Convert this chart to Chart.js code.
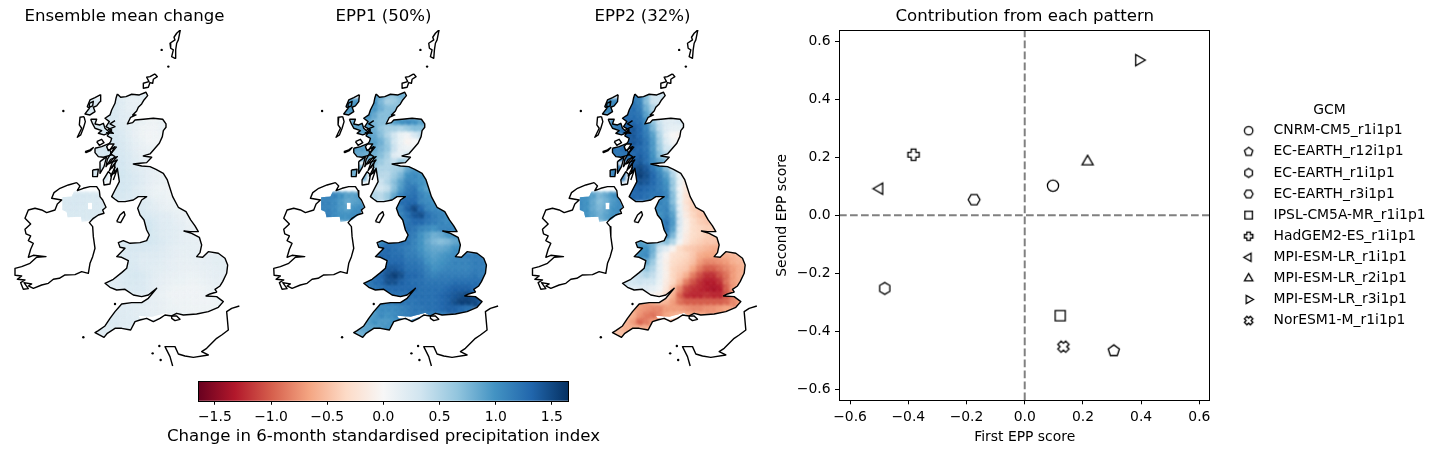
<!DOCTYPE html>
<html><head><meta charset="utf-8">
<style>html,body{margin:0;padding:0;background:#fff}canvas{position:absolute;display:block}</style>
<script src="https://cdn.jsdelivr.net/npm/chart.js@4"></script>
</head><body>
<canvas id="m0" width="249" height="380" style="left:0;top:0"></canvas>
<canvas id="m1" width="249" height="380" style="left:259px;top:0"></canvas>
<canvas id="m2" width="249" height="380" style="left:518px;top:0"></canvas>
<canvas id="cb" width="467" height="84" style="left:150px;top:370px"></canvas>
<canvas id="sc" width="670" height="454" style="left:770px;top:0"></canvas>
<script>
const mapTitles=['Ensemble mean change','EPP1 (50%)','EPP2 (32%)'];
const scatterTitle='Contribution from each pattern';
const colorbarLabel='Change in 6-month standardised precipitation index';
const xLabel='First EPP score', yLabel='Second EPP score', legendTitle='GCM';
const gcmNames=['CNRM-CM5_r1i1p1','EC-EARTH_r12i1p1','EC-EARTH_r1i1p1','EC-EARTH_r3i1p1','IPSL-CM5A-MR_r1i1p1','HadGEM2-ES_r1i1p1','MPI-ESM-LR_r1i1p1','MPI-ESM-LR_r2i1p1','MPI-ESM-LR_r3i1p1','NorESM1-M_r1i1p1'];
const gcmMarkers=['circle','pentagon','hexPointy','hexFlat','square','plus','left','up','right','xfill'];
const firstScore=[0.097,0.306,-0.481,-0.174,0.122,-0.382,-0.499,0.216,0.392,0.133];
const secondScore=[0.102,-0.467,-0.252,0.054,-0.346,0.209,0.092,0.185,0.535,-0.453];
const scoreTicks=[-0.6,-0.4,-0.2,0,0.2,0.4,0.6];
const scoreLim=0.638;
const cbTicks=[-1.5,-1,-0.5,0,0.5,1,1.5];
const cbLim=1.65;
const rdbu=['#67001f','#b2182b','#d6604d','#f4a582','#fddbc7','#f7f7f7','#d1e5f0','#92c5de','#4393c3','#2166ac','#053061'];

// grid rows: northing, first easting of the row (cells step 20 map units)
const rowY=[310,330,370,390,450,470,510,530,590,610,630,650,
290,310,330,350,370,390,410,430,450,470,490,510,530,550,570,590,610,630,650,670,690,710,730,750,770,790,810,830,850,870,890,910,930,950,970,990,1010];
const rowX=[270,250,290,290,290,290,290,290,190,190,190,190,
350,350,330,330,330,330,330,330,330,330,350,350,350,350,330,330,410,410,430,430,430,430,370,350,370,370,370,350,330,330,390,370,350,330,310,290,290];
const meanRows=[[.24,.24,.25],[.24,.24,.25],[.26,.26],[.26,.26],[.26,.28],[.28,.28],[.28,.3],[.28,.3],
[.25,.26,.27,.28,.27,.26,.25],[.26,.27,.28,.27,.26,.26,.25],[.26,.27,.27,.26,.26,.26,.26],[.26,.26,.26,.26,.26,.26,.26],
[.22,.2,.15,.15,.18],[.25,.2,.15,.12,.15],[.28,.25,.2,.15,.15],[.28,.25,.2,.18,.15],[.28,.25,.2,.15,.12,.1,.08,.08,.1],[.3,.27,.22,.17,.12,.08,.07,.07,.1],[.3,.28,.24,.18,.12,.08,.05,.06,.08],[.3,.3,.26,.2,.14,.1,.06,.06],[.3,.3,.27,.22,.16,.12,.1],[.3,.3,.28,.24,.18,.14,.12],[.3,.3,.25,.2,.16],[.32,.3,.26,.22,.18,.16,.14],[.32,.32,.28,.24,.2,.16,.12,.1],[.3,.3,.28,.25,.2,.16,.12,.1,.08],[.28,.28,.3,.28,.22,.18,.14,.1,.08,.08],[.28,.28,.28,.25,.22,.2,.14,.1,.1,.08,.08],[.25,.22,.2,.15,.12,.1,.1],[.25,.24,.2,.18,.14,.12,.1,.1],[.26,.24,.22,.2,.18,.14,.12,.1],[.28,.3,.25,.2,.2,.16,.14,.1,.1],[.3,.32,.26,.22,.2,.18,.16,.12,.12],[.28,.3,.26,.22,.2,.18,.15,.14,.12,.12],
[.25,.25,.25,.28,.3,.28,.24,.2,.18,.16,.15,.14,.14],[.22,.25,.28,.27,.27,.25,.24,.22,.18,.16,.15,.15,.14,.14],[.24,.25,.24,.22,.22,.22,.2,.18,.16,.14,.14,.16,.16,.16,.16,.16],[.24,.24,.24,.2,.2,.2,.18,.16,.14,.13,.13,.14,.15,.16,.17,.17,.16],[.24,.26,.25,.22,.2,.18,.17,.16,.14,.12,.12,.12,.14,.15,.16,.17,.16],[.2,.22,.26,.28,.26,.22,.18,.16,.14,.12,.11,.1,.1,.12,.14,.16,.16,.16],[.2,.2,.24,.26,.26,.24,.2,.16,.14,.12,.1,.1,.09,.09,.1,.12,.14,.14],[.2,.2,.22,.24,.24,.24,.2,.16,.12,.1,.08,.08,.07,.07,.08,.1,.12],[.2,.2,.2,.16,.12,.1,.08,.07,.07,.07,.07,.07,.08,.1,.1],[.16,.16,.18,.18,.16,.14,.12,.1,.08,.08,.08,.07,.07,.07,.08,.1],[.18,.2,.2,.18,.16,.14,.14,.12,.1,.1,.08,.08,.08,.08,.08],[.2,.22,.22,.2,.18,.18,.16,.14,.12,.12,.1,.1],[.2,.24,.24,.22,.22,.2,.18,.16],[.2,.22,.22,.22,.2,.2],[.2,.2,.2]];
const epp1Rows=[[.95,.95,1.0],[.95,.95,1.0],[.9,.9],[.9,.9],[.9,.9],[.85,.85],[.85,.8],[.8,.8],
[1.05,1.1,1.1,1.0,.9,.9,.95],[1.1,1.1,1.05,.95,.85,.9,.95],[1.1,1.1,1.05,.95,.9,1.0,1.05],[1.1,1.15,1.05,1.0,1.0,1.05,1.1],
[.9,.85,.65,.65,.8],[1.0,.75,.55,.6,.7],[1.0,.95,.8,.7,.7],[1.0,.85,.7,.7,.8],[.9,.75,.7,.7,.9,1.0,1.05,1.0,.9],[.9,.8,.65,.55,.55,.5,.6,.7,.7],[.9,.85,.7,.5,.3,.1,.05,.25,.4],[.9,.9,.8,.6,.3,.1,-.05,.0],[.9,.85,.75,.65,.35,.12,.08],[.8,.8,.7,.55,.2,.15,.3],[.7,.6,.5,.4,.6],[.6,.5,.5,.55,.6,.85,.95],[.55,.45,.45,.6,.75,1.0,1.05,1.0],[.4,.35,.5,.7,.9,1.1,1.05,1.0,.95],[.35,.35,.3,.4,.7,.95,1.15,1.2,1.0,.9],[.5,.5,.45,.6,.85,1.1,1.2,1.25,1.1,1.0,.95],[1.05,1.25,1.3,1.3,1.1,1.05,1.0],[1.05,1.15,1.35,1.5,1.3,1.1,1.05,1.05],[1.1,1.25,1.4,1.45,1.25,1.15,1.1,1.05],[1.1,1.2,1.3,1.3,1.2,1.15,1.1,1.05,1.05],[1.2,1.25,1.2,1.1,1.05,1.0,1.1,1.1,1.1],[1.2,1.2,1.15,1.0,.9,.8,.85,.95,1.0,1.0],
[1.05,1.2,1.2,1.25,1.2,1.1,1.0,.85,.75,.7,.75,.85,.9],[1.15,1.25,1.3,1.25,1.2,1.15,1.1,1.0,.9,.85,.85,.9,1.0,1.0],[1.3,1.3,1.25,1.25,1.15,1.15,1.05,.95,.9,.95,1.0,1.05,1.1,1.15,1.15,1.15],[1.3,1.3,1.3,1.3,1.2,1.2,1.15,1.0,.95,1.0,1.05,1.1,1.1,1.1,1.15,1.15,1.1],[1.35,1.4,1.4,1.35,1.25,1.25,1.2,1.1,1.0,1.05,1.1,1.1,1.1,1.1,1.15,1.15,1.1],[1.25,1.3,1.45,1.55,1.45,1.3,1.3,1.25,1.15,1.1,1.15,1.15,1.15,1.15,1.15,1.2,1.15,1.15],[1.15,1.25,1.3,1.45,1.45,1.35,1.3,1.25,1.25,1.2,1.2,1.2,1.2,1.25,1.25,1.25,1.25,1.25],[1.15,1.2,1.25,1.3,1.3,1.3,1.3,1.3,1.25,1.25,1.25,1.25,1.3,1.35,1.35,1.35,1.3],[1.25,1.25,1.25,1.25,1.25,1.25,1.25,1.25,1.3,1.35,1.4,1.45,1.5,1.45,1.4],[1.1,1.15,1.15,1.2,1.2,1.2,1.25,1.25,1.25,1.3,1.35,1.45,1.55,1.55,1.5,1.4],[1.0,1.05,1.05,1.05,1.1,1.15,1.2,1.2,1.25,1.25,1.3,1.35,1.35,1.3,1.25],[.9,.95,1.05,1.0,1.05,1.1,1.15,1.2,1.15,1.15,1.15,1.15],[.85,.9,1.0,.95,.95,1.0,1.05,1.05],[.75,.85,.9,.9,.95,1.0],[.75,.8,.85]];
const epp2Rows=[[1.0,1.05,1.1],[1.0,1.05,1.1],[1.1,1.15],[1.1,1.2],[1.2,1.2],[1.2,1.2],[1.1,1.15],[1.1,1.15],
[1.0,1.0,.9,.75,.85,1.0,1.05],[1.05,1.0,.85,.7,.8,.95,1.05],[1.05,1.0,.85,.75,.85,1.0,1.05],[1.05,1.0,.9,.8,.9,1.0,1.05],
[1.1,1.15,.7,.3,.35],[1.2,1.1,.7,.35,.3],[1.2,1.25,1.15,.8,.5],[1.25,1.25,1.2,.9,.6],[1.3,1.3,1.25,1.05,.65,.35,.2,.2,.25],[1.35,1.4,1.3,1.1,.75,.4,.2,.15,.15],[1.4,1.4,1.3,1.15,.9,.5,.15,0,-.05],[1.35,1.4,1.35,1.2,.95,.55,.2,.05],[1.3,1.35,1.3,1.2,.95,.6,.3],[1.2,1.3,1.35,1.25,1.0,.7,.45],[1.35,1.4,1.25,1.05,.85],[1.45,1.5,1.4,1.2,1.0,.7,.3],[1.5,1.55,1.45,1.3,1.1,.9,.5,.1],[1.35,1.45,1.4,1.3,1.15,1.0,.6,.1,-.15],[1.25,1.3,1.35,1.3,1.25,1.15,1.05,.6,.05,-.2],[1.25,1.3,1.3,1.25,1.2,1.2,1.1,.7,.1,-.25,-.35],[1.05,1.1,1.05,.7,.1,-.25,-.4],[1.1,1.05,1.1,.8,.15,-.2,-.4,-.45],[1.0,1.1,.9,.2,-.15,-.35,-.45,-.5],[1.05,1.2,.95,.25,-.1,-.3,-.4,-.45,-.45],[1.0,1.2,.9,.2,-.1,-.3,-.35,-.4,-.4],[.9,1.1,.75,.15,-.15,-.3,-.35,-.4,-.45,-.45],
[.9,.85,.75,.55,.7,.5,.05,-.2,-.35,-.4,-.45,-.45,-.5],[.9,1.0,1.0,.8,.35,.2,-.05,-.3,-.4,-.45,-.5,-.55,-.6,-.6],[1.0,1.05,.75,.2,-.05,-.25,-.3,-.35,-.45,-.6,-.65,-.65,-.6,-.6,-.55,-.5],[.8,.85,.6,.15,-.1,-.3,-.35,-.4,-.5,-.7,-.8,-.8,-.75,-.7,-.6,-.55,-.5],[.6,.65,.5,.15,-.1,-.35,-.4,-.45,-.65,-.85,-1.0,-1.0,-.9,-.8,-.7,-.6,-.55],[.35,.4,.5,.4,.15,-.1,-.35,-.45,-.6,-.85,-1.05,-1.2,-1.2,-1.05,-.9,-.7,-.6,-.55],[.3,.3,.35,.3,.3,.1,-.15,-.35,-.55,-.85,-1.05,-1.2,-1.3,-1.3,-1.2,-.9,-.7,-.6],[.25,.2,.2,.2,.15,.05,-.2,-.5,-.8,-1.1,-1.2,-1.25,-1.3,-1.35,-1.3,-1.0,-.7],[.05,-.05,-.1,-.3,-.6,-.95,-1.2,-1.25,-1.25,-1.2,-1.25,-1.25,-1.05,-.8,-.7],[-.7,-.7,-.6,-.5,-.55,-.7,-.9,-1.0,-1.0,-1.0,-1.0,-1.0,-1.0,-.95,-.8,-.7],[-.65,-.7,-.75,-.8,-.8,-.7,-.7,-.7,-.75,-.8,-.8,-.75,-.75,-.7,-.65],[-.55,-.6,-.75,-.85,-.9,-.8,-.65,-.6,-.55,-.6,-.65,-.65],[-.5,-.55,-.7,-.95,-.85,-.7,-.65,-.6],[-.45,-.5,-.6,-.6,-.6,-.6],[-.45,-.5,-.5]];

// coast outlines, map units
const gbCoast=[[352,282],[362,292],[378,290],[395,283],[418,285],[438,277],[443,287],[432,300],[425,312],[415,322],[410,333],[398,345],[408,345],[392,352],[382,372],[398,368],[405,360],[430,358],[460,355],[488,358],[498,372],[498,382],[490,392],[487,410],[478,430],[465,445],[450,462],[430,468],[455,472],[440,488],[420,490],[400,492],[425,498],[450,500],[468,508],[490,520],[502,540],[510,565],[518,590],[535,622],[558,635],[572,660],[585,678],[595,695],[570,695],[552,693],[575,700],[598,712],[605,735],[600,758],[590,770],[608,772],[625,755],[655,760],[675,775],[683,795],[680,820],[668,845],[660,858],[645,868],[650,876],[630,882],[618,888],[650,890],[670,905],[655,922],[625,935],[590,942],[550,945],[530,940],[515,948],[495,945],[480,955],[460,965],[440,955],[420,960],[405,965],[392,990],[365,985],[345,985],[322,1000],[312,1012],[298,1005],[285,998],[295,992],[315,978],[330,955],[345,935],[365,912],[395,908],[425,908],[445,895],[470,865],[445,885],[425,890],[400,885],[375,868],[350,870],[330,862],[315,850],[340,838],[365,818],[380,805],[385,782],[365,772],[350,770],[375,745],[360,742],[355,728],[370,722],[390,730],[420,728],[440,722],[448,705],[440,690],[432,660],[420,645],[413,625],[425,600],[440,590],[415,590],[400,600],[375,605],[355,605],[345,598],[335,590],[345,570],[358,545],[355,525],[352,505],[342,520],[345,490],[328,512],[338,485],[352,470],[332,478],[318,500],[322,478],[345,440],[325,452],[320,440],[332,425],[335,415],[322,408],[328,398],[335,390],[318,380],[328,365],[315,355],[330,345],[335,330],[345,310],[348,295],[352,282]];
const irelandCoast=[[230,548],[240,558],[232,572],[250,565],[270,560],[290,560],[298,572],[300,590],[308,600],[318,622],[308,630],[312,640],[295,645],[280,655],[268,668],[278,680],[280,710],[285,745],[278,770],[270,790],[265,820],[245,815],[225,824],[195,825],[178,835],[160,838],[145,850],[125,855],[100,865],[85,858],[95,852],[72,848],[85,866],[70,868],[62,848],[75,840],[52,838],[65,828],[46,826],[45,805],[65,800],[90,790],[110,772],[138,770],[100,766],[85,772],[92,748],[100,730],[85,722],[92,708],[78,702],[75,688],[92,672],[75,655],[85,630],[105,625],[125,630],[140,638],[165,630],[172,612],[185,600],[155,595],[162,578],[180,565],[205,555],[230,548]];
const lewisCoast=[[302,284],[285,293],[270,300],[262,320],[268,325],[255,342],[270,345],[285,335],[280,322],[290,318],[300,305],[302,284]];
const lewisInner=[[268,310],[280,304],[278,318],[268,322],[268,310]];
const uistCoast=[[252,350],[240,352],[238,375],[245,385],[232,412],[242,405],[250,385],[256,365],[252,350]];
const skyeCoast=[[272,358],[290,358],[285,372],[300,375],[310,370],[315,385],[330,398],[312,405],[295,400],[305,392],[285,385],[278,372],[272,358]];
const smallIsles=[[290,425],[305,418],[312,428],[298,436],[290,425]];
const tireeCoast=[[255,455],[270,450],[280,443],[272,452],[258,458],[255,455]];
const mullCoast=[[285,445],[305,440],[325,432],[342,432],[330,450],[335,465],[310,472],[295,470],[285,458],[285,445]];
const islayCoast=[[278,510],[295,508],[292,530],[278,530],[278,510]];
const juraCoast=[[300,485],[320,470],[312,500],[300,520],[300,485]];
const arranCoast=[[325,515],[335,525],[330,552],[312,555],[310,540],[325,515]];
const lochsNorth=[[345,362],[330,372],[345,380],[325,388],[340,400],[318,398]];
const lochsMid=[[350,440],[332,462],[345,470],[326,492],[352,480],[335,505]];
const lochsSouth=[[346,500],[332,528],[350,512],[340,540]];
const manCoast=[[350,665],[360,645],[372,635],[375,645],[362,668],[350,665]];
const wightCoast=[[515,948],[530,948],[540,958],[525,962],[515,955],[515,948]];
const orkneyCoast=[[465,222],[450,230],[440,232],[447,245],[430,250],[430,265],[445,262],[450,248],[458,250],[460,238],[472,230],[465,222]];
const shetlandCoast=[[541,90],[530,100],[522,112],[525,120],[510,130],[512,145],[520,150],[515,170],[525,175],[527,150],[530,130],[535,120],[541,90]];
const franceCoast=[[718,918],[695,925],[680,935],[685,990],[665,1005],[650,1015],[620,1045],[605,1055],[625,1065],[580,1072],[555,1068],[535,1062],[525,1040],[495,1040],[510,1070],[518,1098]];
const rockIslets=[[190,333],[485,150],[505,200],[250,1012],[345,912],[458,1060],[482,1080],[478,1038]];
const niMask=[[187,592],[215,590],[222,575],[250,565],[290,560],[300,590],[315,620],[305,640],[280,660],[245,667],[243,650],[203,652],[200,635],[187,630]];
const loughMask=[[264,608],[276,608],[276,628],[264,628]];
const southGap=[[415,947],[455,950],[500,938],[510,945],[480,952],[458,960],[420,955]];
const outlines=[gbCoast,irelandCoast,lewisCoast,lewisInner,uistCoast,skyeCoast,smallIsles,tireeCoast,mullCoast,islayCoast,juraCoast,arranCoast,lochsNorth,lochsMid,lochsSouth,manCoast,wightCoast,orkneyCoast,shetlandCoast,franceCoast];
const solidOutlines=[orkneyCoast,shetlandCoast,tireeCoast,uistCoast];
const fillMasks=[gbCoast,lewisCoast,skyeCoast,mullCoast,islayCoast,juraCoast,arranCoast,niMask,loughMask,southGap];

const FONT='"DejaVu Sans"';
Chart.defaults.font.family=FONT;
Chart.defaults.color='#000';
Chart.defaults.animation=false;
const hexRgb=h=>[1,3,5].map(i=>parseInt(h.substr(i,2),16));
function cmap(v){
  const t=Math.max(0,Math.min(1,(v+cbLim)/(2*cbLim)))*(rdbu.length-1);
  const i=Math.min(rdbu.length-2,Math.floor(t)),f=t-i,a=hexRgb(rdbu[i]),b=hexRgb(rdbu[i+1]);
  return `rgb(${a.map((c,k)=>Math.round(c+(b[k]-c)*f)).join(',')})`;
}
const landClip={id:'landClip',
  beforeDatasetDraw(c,a){
    if(!c.data.datasets[a.index].isCells)return;
    const x=c.scales.x,y=c.scales.y,ctx=c.ctx;
    ctx.save();ctx.beginPath();
    fillMasks.forEach(m=>{m.forEach((p,i)=>{const X=x.getPixelForValue(p[0]),Y=y.getPixelForValue(p[1]);i?ctx.lineTo(X,Y):ctx.moveTo(X,Y);});ctx.closePath();});
    ctx.clip('evenodd');ctx.filter='blur(1.6px)';
  },
  afterDatasetDraw(c,a){if(c.data.datasets[a.index].isCells)c.ctx.restore();}
};
const frame={id:'frame',afterDraw(c){const a=c.chartArea,ctx=c.ctx;ctx.save();ctx.strokeStyle='#000';ctx.lineWidth=1;
  ctx.strokeRect(Math.round(a.left)+.5,Math.round(a.top)+.5,Math.round(a.right-a.left)-1,Math.round(a.bottom-a.top));ctx.restore();}};

function makeMap(id,title,rows,shift){
  const cells=[],colors=[];
  rows.forEach((r,j)=>r.forEach((v,i)=>{cells.push({x:rowX[j]+20*i,y:rowY[j]});colors.push(cmap(v));}));
  const ds=outlines.map(o=>({data:o.map(p=>({x:p[0],y:p[1]})),showLine:true,pointRadius:0,borderColor:'#000',borderWidth:1.4,borderJoinStyle:'round',
    fill:solidOutlines.includes(o),backgroundColor:'#000'}));
  ds.push({data:rockIslets.map(p=>({x:p[0],y:p[1]})),showLine:false,pointRadius:1.2,backgroundColor:'#000',borderWidth:0});
  ds.push({isCells:true,data:cells,showLine:false,pointStyle:'rect',pointRadius:6.6,backgroundColor:colors,borderWidth:0,pointBorderWidth:0});
  new Chart(document.getElementById(id),{type:'scatter',data:{datasets:ds},plugins:[landClip],
    options:{responsive:false,devicePixelRatio:1,layout:{padding:0,autoPadding:false},
      scales:{x:{type:'linear',display:false,min:shift,max:747+shift},y:{type:'linear',display:false,reverse:true,min:90,max:1140}},
      plugins:{legend:{display:false},tooltip:{enabled:false},
        title:{display:true,text:title,color:'#000',font:{size:16.6,weight:'normal'},padding:{top:7,bottom:3}}}}});
}
makeMap('m0',mapTitles[0],meanRows,0);
makeMap('m1',mapTitles[1],epp1Rows,0.75);
makeMap('m2',mapTitles[2],epp2Rows,1.5);

// colour bar
new Chart(document.getElementById('cb'),{type:'bar',
  data:{labels:[''],datasets:[{data:[[-cbLim,cbLim]],barPercentage:1,categoryPercentage:1,borderWidth:0,
    backgroundColor(ctx){const a=ctx.chart.chartArea;if(!a)return '#fff';
      const g=ctx.chart.ctx.createLinearGradient(a.left,0,a.right,0);rdbu.forEach((c,i)=>g.addColorStop(i/(rdbu.length-1),c));return g;}}]},
  plugins:[frame],
  options:{indexAxis:'y',responsive:false,devicePixelRatio:1,layout:{padding:{left:0,right:0,top:11,bottom:0},autoPadding:false},
    scales:{y:{display:true,grid:{display:false},border:{display:false},ticks:{display:false},afterFit(s){s.width=48}},
      gap:{type:'linear',position:'right',min:0,max:1,grid:{display:false},border:{display:false},ticks:{display:false},afterFit(s){s.width=48.3}},
      x:{type:'linear',min:-cbLim,max:cbLim,afterFit(s){s.height=24.3},afterBuildTicks(s){s.ticks=cbTicks.map(v=>({value:v}))},
        grid:{drawOnChartArea:false,drawTicks:true,tickLength:4,tickColor:'#000'},border:{display:false},
        ticks:{autoSkip:false,maxRotation:0,padding:4.5,color:'#000',font:{size:13.9},callback:v=>v.toFixed(1).replace('-','\u2212')}}},
    plugins:{legend:{display:false},tooltip:{enabled:false},
      title:{display:true,position:'bottom',fullSize:true,text:colorbarLabel,color:'#000',font:{size:16.6,weight:'normal'},padding:{top:2,bottom:7}}}}});

// marker glyphs
function glyph(kind,r){
  const S=Math.ceil(2*r+4),c=document.createElement('canvas');c.width=S;c.height=S;
  const g=c.getContext('2d');g.translate(S/2,S/2);g.strokeStyle='#000';g.lineWidth=1.3;g.lineJoin='miter';g.beginPath();
  const poly=(n,a0,R)=>{for(let i=0;i<n;i++){const a=a0+i*2*Math.PI/n;i?g.lineTo(R*Math.cos(a),R*Math.sin(a)):g.moveTo(R*Math.cos(a),R*Math.sin(a));}g.closePath();};
  const t=r*.42;
  const cross=[[-t,-r],[t,-r],[t,-t],[r,-t],[r,t],[t,t],[t,r],[-t,r],[-t,t],[-r,t],[-r,-t],[-t,-t]];
  if(kind==='circle')g.arc(0,0,r,0,2*Math.PI);
  else if(kind==='pentagon')poly(5,-Math.PI/2,r*1.05);
  else if(kind==='hexPointy')poly(6,-Math.PI/2,r*1.05);
  else if(kind==='hexFlat')poly(6,0,r*1.05);
  else if(kind==='square')g.rect(-r*.9,-r*.9,1.8*r,1.8*r);
  else if(kind==='up')poly(3,-Math.PI/2,r*1.15);
  else if(kind==='left')poly(3,Math.PI,r*1.15);
  else if(kind==='right')poly(3,0,r*1.15);
  else{ if(kind==='xfill')g.rotate(Math.PI/4); cross.forEach((p,i)=>i?g.lineTo(p[0],p[1]):g.moveTo(p[0],p[1]));g.closePath();}
  g.stroke();return c;
}
const plotGlyphs=gcmMarkers.map(k=>glyph(k,5.6));
const legendGlyphs=gcmMarkers.map(k=>glyph(k,4.2));

const gcmSets=gcmNames.map((n,i)=>({label:n,data:[{x:firstScore[i],y:secondScore[i]}],pointStyle:plotGlyphs[i],pointRadius:6,showLine:false}));
const zeroH={label:'h0',data:[{x:-scoreLim,y:0},{x:scoreLim,y:0}],showLine:true,pointRadius:0,borderColor:'#808080',borderWidth:2,borderDash:[7.7,3.3]};
const zeroV={label:'v0',data:[{x:0,y:-scoreLim},{x:0,y:scoreLim}],showLine:true,pointRadius:0,borderColor:'#808080',borderWidth:2,borderDash:[7.7,3.3]};
const axisCommon=(txt)=>({type:'linear',min:-scoreLim,max:scoreLim,afterBuildTicks(s){s.ticks=scoreTicks.map(v=>({value:v}))},
  grid:{drawOnChartArea:false,drawTicks:true,tickLength:4,tickColor:'#000'},border:{display:false},
  ticks:{autoSkip:false,maxRotation:0,padding:4.5,color:'#000',font:{size:13.9},callback:v=>(+v).toFixed(1).replace('-','\u2212')},
  title:{display:true,text:txt,color:'#000',font:{size:13.9},padding:{top:4,bottom:8}}});
new Chart(document.getElementById('sc'),{type:'scatter',data:{datasets:[...gcmSets,zeroH,zeroV]},plugins:[frame],
  options:{responsive:false,devicePixelRatio:1,layout:{padding:{left:0,right:4.4,top:0,bottom:0},autoPadding:false},
    scales:{x:{...axisCommon(xLabel),afterFit(s){s.height=53.7}},y:{...axisCommon(yLabel),afterFit(s){s.width=69}},
      gap:{type:'linear',position:'right',min:0,max:1,grid:{display:false},border:{display:false},ticks:{display:false},afterFit(s){s.width=13}}},
    plugins:{tooltip:{enabled:false},
      title:{display:true,fullSize:false,text:scatterTitle,color:'#000',font:{size:16.6,weight:'normal'},padding:{top:7,bottom:3.4}},
      legend:{display:true,position:'right',fullSize:false,maxWidth:230,
        title:{display:true,text:legendTitle,color:'#000',font:{size:13.9},padding:{top:8,bottom:-4}},
        labels:{usePointStyle:true,pointStyleWidth:36,padding:7.2,color:'#000',font:{size:13.9},
          generateLabels:()=>gcmNames.map((t,i)=>({text:t,pointStyle:legendGlyphs[i],fillStyle:'rgba(0,0,0,0)',strokeStyle:'rgba(0,0,0,0)',lineWidth:0,fontColor:'#000',datasetIndex:i}))}}}}});
</script></body></html>
